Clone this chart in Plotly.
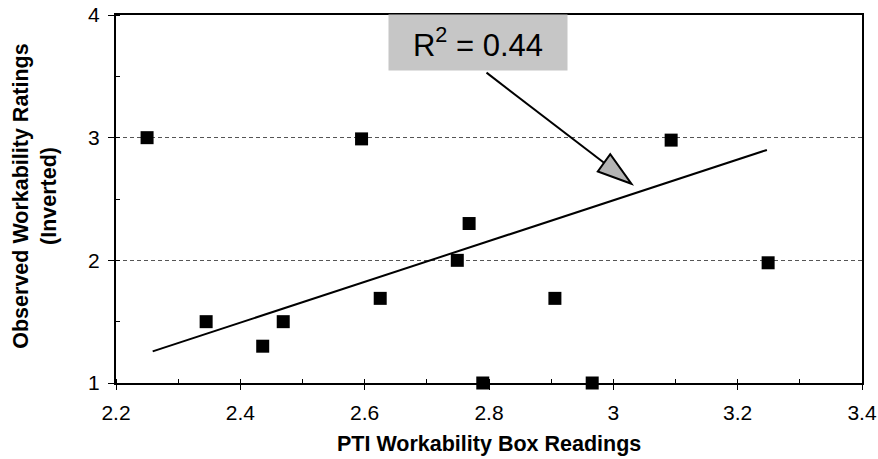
import plotly.graph_objects as go

# ---- data ----
pti_readings = [2.25, 2.595, 2.345, 2.436, 2.469, 2.625, 2.749, 2.768, 2.79, 3.093, 3.249, 2.906, 2.966]
observed_ratings = [3.0, 2.99, 1.5, 1.3, 1.5, 1.69, 2.0, 2.3, 1.0, 2.98, 1.98, 1.69, 1.0]

trend_x = [2.259, 3.247]
trend_y = [1.258, 2.90]

r2_label = "R<sup>2</sup> = 0.44"

x_tick_vals = [2.2, 2.4, 2.6, 2.8, 3.0, 3.2, 3.4]
x_tick_text = ["2.2", "2.4", "2.6", "2.8", "3", "3.2", "3.4"]
y_tick_vals = [1, 2, 3, 4]
y_tick_text = ["1", "2", "3", "4"]

# annotation arrow geometry (data coordinates)
arrow_tail = (2.796, 3.53)
arrow_base_mid = (2.985, 2.795)
arrow_tri = [(3.029, 2.624), (2.975, 2.725), (2.995, 2.866)]

FONT = "Liberation Sans, Arial, Helvetica, sans-serif"

fig = go.Figure()

fig.add_trace(go.Scatter(
    x=trend_x, y=trend_y, mode="lines",
    line=dict(color="black", width=2), showlegend=False, hoverinfo="skip"))

fig.add_trace(go.Scatter(
    x=pti_readings, y=observed_ratings, mode="markers",
    marker=dict(symbol="square", size=13, color="black"),
    cliponaxis=False, showlegend=False))

# arrow line
fig.add_shape(type="line", xref="x", yref="y",
              x0=arrow_tail[0], y0=arrow_tail[1],
              x1=arrow_base_mid[0], y1=arrow_base_mid[1],
              line=dict(color="black", width=2))
# arrow head
p = arrow_tri
path = f"M {p[0][0]} {p[0][1]} L {p[1][0]} {p[1][1]} L {p[2][0]} {p[2][1]} Z"
fig.add_shape(type="path", xref="x", yref="y", path=path,
              fillcolor="#b4b4b4", line=dict(color="black", width=2))

# R^2 box
fig.add_annotation(
    xref="paper", yref="paper", x=0.485, y=0.925,
    xanchor="center", yanchor="middle",
    text=r2_label, showarrow=False,
    font=dict(family=FONT, size=31, color="black"),
    bgcolor="#c6c6c6", width=176, height=53)

# axis titles as annotations
fig.add_annotation(
    xref="paper", yref="paper", x=-0.108, y=0.51,
    xanchor="center", yanchor="middle", textangle=-90,
    text="<b>Observed Workability Ratings</b><br><b>(Inverted)</b>",
    showarrow=False, font=dict(family=FONT, size=21.5, color="black"))

fig.add_annotation(
    xref="paper", yref="paper", x=0.5, y=-0.166,
    xanchor="center", yanchor="middle",
    text="<b>PTI Workability Box Readings</b>",
    showarrow=False, font=dict(family=FONT, size=21.5, color="black"))

fig.update_layout(
    width=878, height=459,
    margin=dict(l=116, r=16, t=15, b=76),
    paper_bgcolor="white", plot_bgcolor="white",
    font=dict(family=FONT, color="black"),
    showlegend=False,
)

fig.update_xaxes(
    range=[2.2, 3.4], tickvals=x_tick_vals, ticktext=x_tick_text,
    showgrid=False, zeroline=False, automargin=False,
    showline=True, linecolor="black", linewidth=2, mirror=True,
    ticks="outside", ticklen=5, tickwidth=1, tickcolor="black",
    minor=dict(ticks="inside", ticklen=4, dtick=0.1, tickcolor="black", showgrid=False),
    tickfont=dict(family=FONT, size=21, color="black"),
    ticklabelstandoff=5, ticklabeloverflow="allow",
)

fig.update_yaxes(
    range=[1, 4], tickvals=y_tick_vals, ticktext=y_tick_text,
    showgrid=True, gridcolor="#555555", gridwidth=1, griddash="4px,3px",
    zeroline=False, automargin=False,
    showline=True, linecolor="black", linewidth=2, mirror=True,
    ticks="outside", ticklen=6, tickwidth=1, tickcolor="black",
    minor=dict(ticks="inside", ticklen=4, dtick=0.5, tickcolor="black", showgrid=False),
    tickfont=dict(family=FONT, size=21, color="black"),
    ticklabelstandoff=4, ticklabeloverflow="allow",
)

# remove the default page margin so the figure fills the window exactly
fig.write_html(
    "out.html",
    config={"displayModeBar": False},
    post_script="document.body.style.margin='0';document.body.style.overflow='hidden';",
)
